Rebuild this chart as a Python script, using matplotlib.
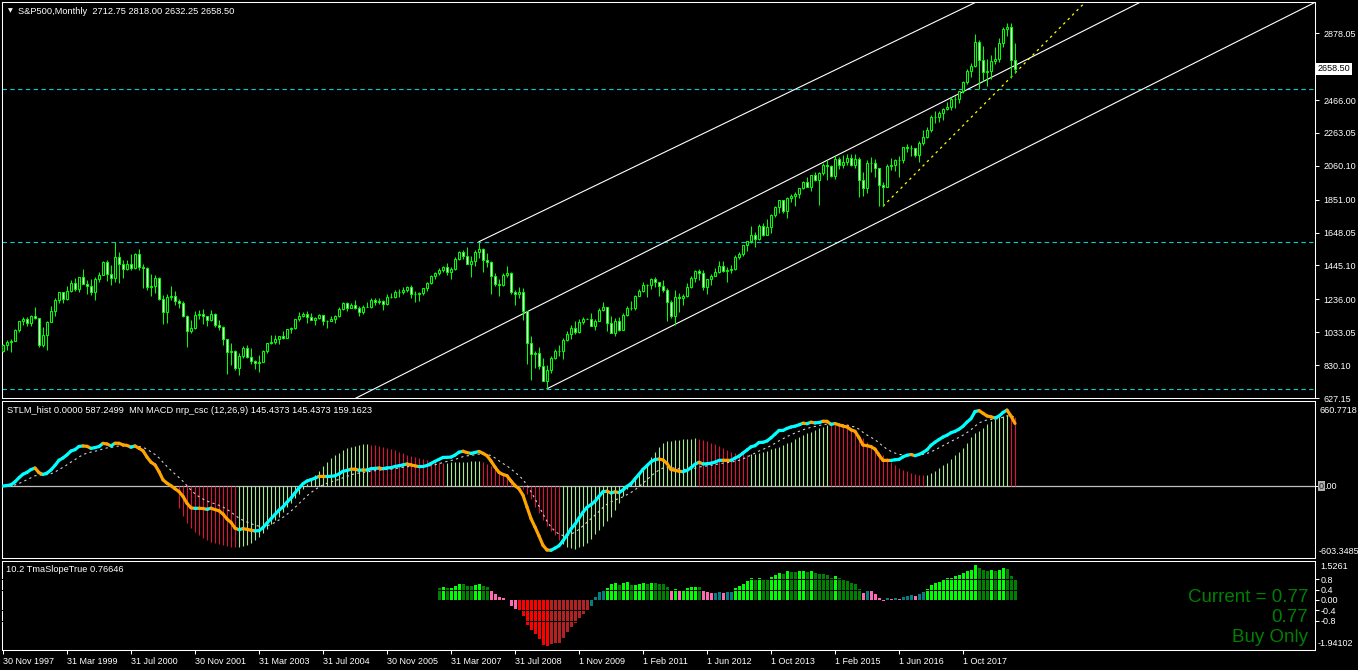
import numpy as np
import matplotlib.pyplot as plt
from matplotlib.collections import LineCollection
from matplotlib.transforms import blended_transform_factory

plt.rcParams['font.family'] = ['Liberation Sans', 'DejaVu Sans']

W, H = 1358, 670

# S&P500 monthly bars, Nov 1997 .. Nov 2018 (the feed has one extra bar after Dec 2009)
first_open = 914.6
closes = [
    955.4, 970.4,
    980.3, 1049.3, 1101.8, 1111.8, 1090.8, 1133.8, 1120.7, 957.3, 1017.0, 1098.7, 1163.6, 1229.2,
    1279.6, 1238.3, 1286.4, 1335.2, 1301.8, 1372.7, 1328.7, 1320.4, 1282.7, 1362.9, 1388.9, 1469.3,
    1394.5, 1366.4, 1498.6, 1452.4, 1420.6, 1454.6, 1430.8, 1517.7, 1436.5, 1429.4, 1315.2, 1320.3,
    1366.0, 1239.9, 1160.3, 1249.5, 1255.8, 1224.4, 1211.2, 1133.6, 1040.9, 1059.8, 1139.5, 1148.1,
    1130.2, 1106.7, 1147.4, 1076.9, 1067.1, 989.8, 911.6, 916.1, 815.3, 885.8, 936.3, 879.8,
    855.7, 841.2, 848.2, 916.9, 963.6, 974.5, 990.3, 1008.0, 996.0, 1050.7, 1058.2, 1111.9,
    1131.1, 1144.9, 1126.2, 1107.3, 1120.7, 1140.8, 1101.7, 1104.2, 1114.6, 1130.2, 1173.8, 1211.9,
    1181.3, 1203.6, 1180.6, 1156.9, 1191.5, 1191.3, 1234.2, 1220.3, 1228.8, 1207.0, 1249.5, 1248.3,
    1280.1, 1280.7, 1294.8, 1310.6, 1270.1, 1270.2, 1276.7, 1303.8, 1335.9, 1377.9, 1400.6, 1418.3,
    1438.2, 1406.8, 1420.9, 1482.4, 1530.6, 1503.4, 1455.3, 1474.0, 1526.8, 1549.4, 1481.1, 1468.4,
    1378.6, 1330.6, 1322.7, 1385.6, 1400.4, 1280.0, 1267.4, 1282.8, 1166.4, 968.8, 896.2, 903.3,
    825.9, 735.1, 797.9, 872.8, 919.1, 919.3, 987.5, 1020.6, 1057.1, 1036.2, 1095.6, 1115.1,
    1116.5,
    1073.9, 1104.5, 1169.4, 1186.7, 1089.4, 1030.7, 1101.6, 1049.3, 1141.2, 1183.3, 1180.6, 1257.6,
    1286.1, 1327.2, 1325.8, 1363.6, 1345.2, 1320.6, 1292.3, 1218.9, 1131.4, 1253.3, 1247.0, 1257.6,
    1312.4, 1365.7, 1408.5, 1397.9, 1310.3, 1362.2, 1379.3, 1406.6, 1440.7, 1412.2, 1416.2, 1426.2,
    1498.1, 1514.7, 1569.2, 1597.6, 1630.7, 1606.3, 1685.7, 1633.0, 1681.6, 1756.5, 1805.8, 1848.4,
    1782.6, 1859.5, 1872.3, 1884.0, 1923.6, 1960.2, 1930.7, 2003.4, 1972.3, 2018.1, 2067.6, 2058.9,
    1995.0, 2104.5, 2067.9, 2085.5, 2107.4, 2063.1, 2103.8, 1972.2, 1920.0, 2079.4, 2080.4, 2043.9,
    1940.2, 1932.2, 2059.7, 2065.3, 2097.0, 2098.9, 2173.6, 2171.0, 2168.3, 2126.2, 2198.8, 2238.8,
    2278.9, 2363.6, 2362.7, 2384.2, 2411.8, 2423.4, 2470.3, 2471.7, 2519.4, 2575.3, 2647.6, 2673.6,
    2823.8, 2713.8, 2640.9, 2648.1, 2705.3, 2718.4, 2816.3, 2901.5, 2914.0, 2712.75, 2658.5,
]
highs = [
    960, 986,
    992, 1051, 1105, 1130, 1124, 1138, 1190, 1121, 1066, 1103, 1193, 1244,
    1280, 1284, 1316, 1357, 1368, 1373, 1421, 1357, 1361, 1373, 1407, 1474,
    1478, 1445, 1590, 1527, 1481, 1478, 1517, 1525, 1545, 1454, 1438, 1390,
    1384, 1376, 1263, 1269, 1316, 1287, 1239, 1226, 1139, 1110, 1163, 1173,
    1176, 1131, 1173, 1150, 1106, 1070, 994, 965, 925, 907, 951, 954,
    935, 864, 895, 924, 965, 1015, 1015, 1011, 1040, 1054, 1063, 1112,
    1155, 1159, 1164, 1151, 1128, 1146, 1141, 1109, 1131, 1141, 1188, 1218,
    1217, 1213, 1229, 1192, 1200, 1220, 1246, 1245, 1243, 1234, 1271, 1276,
    1295, 1297, 1310, 1318, 1326, 1285, 1280, 1306, 1340, 1389, 1407, 1432,
    1441, 1461, 1438, 1499, 1535, 1541, 1556, 1503, 1539, 1590, 1553, 1524,
    1471, 1397, 1359, 1397, 1440, 1405, 1292, 1314, 1304, 1167, 1007, 918,
    944, 876, 832, 888, 930, 957, 997, 1039, 1080, 1101, 1113, 1130,
    1119.5,
    1150, 1113, 1180, 1220, 1190, 1131, 1120, 1130, 1150, 1196, 1228, 1262,
    1302, 1344, 1332, 1366, 1371, 1346, 1357, 1308, 1230, 1293, 1278, 1269,
    1334, 1378, 1420, 1422, 1416, 1364, 1392, 1427, 1475, 1471, 1434, 1448,
    1510, 1530, 1570, 1598, 1687, 1654, 1698, 1709, 1730, 1765, 1814, 1849,
    1851, 1867, 1884, 1897, 1925, 1968, 1991, 2006, 2019, 2019, 2075, 2093,
    2064, 2119, 2117, 2126, 2135, 2130, 2133, 2113, 2021, 2094, 2117, 2104,
    2045, 1963, 2073, 2111, 2100, 2121, 2178, 2194, 2188, 2170, 2214, 2278,
    2301, 2371, 2401, 2399, 2418, 2454, 2484, 2491, 2520, 2582, 2657, 2695,
    2873, 2836, 2801, 2718, 2742, 2791, 2848, 2917, 2941, 2940, 2818.0,
]
lows = [
    912, 926,
    912, 979, 1032, 1076, 1074, 1074, 1112, 939, 939, 923, 1096, 1132,
    1212, 1211, 1229, 1282, 1287, 1281, 1328, 1268, 1263, 1233, 1342, 1387,
    1350, 1325, 1346, 1339, 1370, 1420, 1417, 1421, 1419, 1305, 1294, 1254,
    1274, 1229, 1081, 1091, 1232, 1203, 1183, 1124, 944, 1026, 1054, 1114,
    1081, 1074, 1105, 1063, 1048, 952, 775, 833, 800, 768, 872, 871,
    840, 806, 789, 847, 902, 963, 962, 960, 990, 996, 1031, 1054,
    1105, 1124, 1087, 1107, 1076, 1114, 1078, 1060, 1100, 1090, 1127, 1173,
    1163, 1180, 1176, 1136, 1146, 1188, 1184, 1201, 1206, 1169, 1202, 1246,
    1245, 1253, 1268, 1280, 1245, 1220, 1224, 1263, 1290, 1331, 1360, 1385,
    1403, 1389, 1364, 1416, 1481, 1484, 1454, 1371, 1439, 1489, 1406, 1435,
    1270, 1317, 1257, 1318, 1373, 1272, 1200, 1247, 1106, 840, 741, 815,
    805, 734, 684, 783, 867, 888, 869, 979, 992, 1020, 1029, 1086,
    1112,
    1071, 1044, 1100, 1165, 1040, 1028, 1011, 1040, 1048, 1131, 1173, 1173,
    1257, 1283, 1249, 1302, 1311, 1258, 1282, 1101, 1120, 1075, 1159, 1202,
    1253, 1307, 1341, 1358, 1291, 1267, 1326, 1377, 1397, 1403, 1343, 1398,
    1420, 1485, 1501, 1536, 1581, 1560, 1605, 1627, 1633, 1646, 1746, 1767,
    1770, 1738, 1834, 1815, 1862, 1915, 1930, 1905, 1965, 1821, 2001, 1973,
    1988, 1981, 2039, 2048, 2067, 2056, 2044, 1867, 1872, 1893, 2019, 1993,
    1812, 1810, 1937, 2034, 2025, 1992, 2075, 2148, 2120, 2113, 2084, 2188,
    2233, 2271, 2322, 2328, 2345, 2405, 2407, 2418, 2447, 2511, 2566, 2605,
    2668, 2533, 2585, 2553, 2594, 2691, 2699, 2796, 2864, 2603, 2632.25,
]

date_labels = ["30 Nov 1997", "31 Mar 1999", "31 Jul 2000", "30 Nov 2001", "31 Mar 2003",
               "31 Jul 2004", "30 Nov 2005", "31 Mar 2007", "31 Jul 2008", "1 Nov 2009",
               "1 Feb 2011", "1 Jun 2012", "1 Oct 2013", "1 Feb 2015", "1 Jun 2016", "1 Oct 2017"]
price_ticks = [2878.05, 2466.00, 2263.05, 2060.10, 1851.00, 1648.05,
               1445.10, 1236.00, 1033.05, 830.10, 627.15]
last_price = 2658.50

# horizontal levels and trend objects (bar index, price)
level_prices = [2535.0, 1590.0, 684.0]
channel_bars = [(119, 239.2), (88.5, 280.5), (136, 324.25)]
channel_prices = [(1592, 3022), (629.8, 3022), (684, 3022)]
trend_bars = (220, 253)
trend_prices = (1810, 2632.25)

# STLM histogram
hist_start = 44
hist_vals = [
    -189, -254, -311, -359, -390, -416, -438, -458, -472, -483, -495, -503, -509, -514, -517,
    -514, -509, -497, -481, -458, -430, -396, -362, -322, -288, -260, -218, -181, -141, -102, -68, -28,
    17, 57, 90, 130, 170, 204, 235, 263, 283, 305, 319, 334, 342, 351, 353, 353,
    351, 348, 339, 331, 322, 314, 305, 291, 277, 266, 257, 249, 240, 232, 223, 215, 206, 201, 198,
    198, 201, 204, 206, 206, 206, 209, 209, 209,
    204, 187, 170, 153, 130, 113, 88, 57, 23, -6, -28, -68, -113, -175, -232, -288, -339, -379, -418, -458,
    -492, -514, -529, -531,
    -520, -506, -486, -450, -410, -375, -335, -300, -260, -204, -141, -85, -28, 17, 59, 102, 150, 192,
    243, 288, 334, 367, 379, 384, 390, 393, 396, 399, 401, 404,
    401, 390, 379, 367, 353, 339, 319, 305, 291, 283, 274, 269,
    266, 269, 274, 280, 288, 300, 311, 319, 334, 348, 362, 376, 396, 413, 430, 447, 461, 475, 489, 503,
    515, 517, 515, 509, 503, 492, 475, 458, 433, 404, 376, 348, 319, 291, 263, 235, 206, 178, 153, 136,
    124, 113, 102, 96,
    93, 96, 107, 127, 150, 178, 198, 226, 263, 291, 325, 367, 418, 447, 469, 492, 526, 548, 565, 582,
    594, 600, 598, 587,
]
hist_turns = [44, 59, 92, 111, 120, 140, 174, 187, 207, 231, 252]
hist_turn_up = [False, True, False, True, False, True, False, True, False, True, False]

# TmaSlope bars
tma_start = 109
tma_vals = [
    0.45, 0.51, 0.45, 0.45, 0.54, 0.62, 0.62, 0.54, 0.54, 0.58, 0.62, 0.54, 0.51, 0.36, 0.23, 0.12, 0.08, -0.02, -0.23, -0.34,
    -0.39, -0.61, -0.97, -1.17, -1.32, -1.52, -1.75, -1.79, -1.71, -1.66, -1.66, -1.47, -1.23, -1.04, -0.88, -0.69, -0.54, -0.39,
    -0.22, 0.12, 0.31, 0.36, 0.48, 0.62, 0.66, 0.58, 0.66, 0.70, 0.58, 0.58, 0.62, 0.66, 0.62, 0.66, 0.66, 0.62, 0.62, 0.51,
    0.36, 0.43, 0.36, 0.36, 0.47, 0.51, 0.51, 0.51, 0.36, 0.31, 0.27, 0.27, 0.31, 0.27, 0.31,
    0.31, 0.47, 0.54, 0.62, 0.74, 0.86, 0.82, 0.86, 0.82, 0.82,
    0.89, 0.97, 1.05, 1.01, 1.13, 1.09, 1.09, 1.13, 1.13, 1.09,
    1.13, 1.05, 1.01, 1.01, 0.97, 0.86, 0.93, 0.86, 0.82, 0.74,
    0.66, 0.62, 0.43, 0.27, 0.35, 0.35, 0.23, 0.08, -0.03, 0.08,
    0.03, 0.08, 0.03, 0.12, 0.16, 0.19, 0.16, 0.23, 0.31, 0.43,
    0.58, 0.66, 0.70, 0.82, 0.86, 0.86, 0.93, 0.97, 1.05, 1.13,
    1.17, 1.36, 1.25, 1.17, 1.13, 1.17, 1.13, 1.17, 1.25, 1.21,
    0.93, 0.77,
]
tma_codes = ("GLGLLLGGGLLGGPPPPPPP" "RRRRRRRRFFFFFFFFFF" "TTTTLLLGLLGLLLGLGGGG" "PLPLLLLGPPPTTPT"
             "TLLLLLGLGGLLLGLGGLLGLGGGGGLGGGGGGPTPPPPTPTPTTTPTTLLLLLLLLLLLLLGGGLGLLGGG")
tma_palette = {'L': '#00FF00', 'G': '#008000', 'P': '#FF69B4', 'T': '#008080',
               'R': '#FF0000', 'F': '#B22222'}

WHITE = 'white'
LIME = '#00FF00'


def px_axes(fig, x0, y0, x1, y1):
    ax = fig.add_axes([x0 / W, 1 - y1 / H, (x1 - x0) / W, (y1 - y0) / H])
    ax.set_facecolor('black')
    for s in ax.spines.values():
        s.set_color(WHITE)
        s.set_linewidth(0.75)
    ax.set_xlim(-0.25, 328)
    ax.tick_params(axis='x', bottom=False, labelbottom=False)
    return ax


def ema(v, n):
    a = 2.0 / (n + 1)
    out = np.empty(len(v))
    out[0] = v[0]
    for i in range(1, len(v)):
        out[i] = a * v[i] + (1 - a) * out[i - 1]
    return out


def ray(ax, bars, prices, both=False, **kw):
    (b0, b1), (p0, p1) = bars, prices
    s = (p1 - p0) / (b1 - b0)
    start = b0 - 200 if both else b0
    end = b1 + 200
    ax.plot([start, end], [p0 + s * (start - b0), p0 + s * (end - b0)], **kw)


c = np.array(closes, dtype=float)
hi = np.array(highs, dtype=float)
lo = np.array(lows, dtype=float)
o = np.concatenate([[first_open], c[:-1]])
n = len(c)
x = np.arange(n)

fig = plt.figure(figsize=(W / 100, H / 100), dpi=100, facecolor='black')

# ---------------- price window ----------------
ax = px_axes(fig, 2, 2, 1315, 398)
ax.set_ylim(630.8, 3070.9)
ax.vlines(x, lo, hi, color=LIME, lw=0.75, zorder=3)
up = c >= o
ax.bar(x, np.abs(c - o), bottom=np.minimum(o, c), width=0.5,
       color=np.where(up, 'black', 'white'), edgecolor=LIME, linewidth=0.75, zorder=4)

for p in level_prices:
    ax.axhline(p, color='#00CED1', lw=0.8, ls=(0, (4, 3)), zorder=2)
for i, (bars, prices) in enumerate(zip(channel_bars, channel_prices)):
    ray(ax, bars, prices, both=(i == 1), color=WHITE, lw=0.8, zorder=2)
ray(ax, trend_bars, trend_prices, color='#FFFF00', lw=0.9, ls=(0, (2, 3)), zorder=2)

ax.yaxis.tick_right()
ax.set_yticks(price_ticks + [last_price])
ax.set_yticklabels([f'{v:.2f}' for v in price_ticks] + [''])
ax.tick_params(axis='y', colors=WHITE, length=3, width=0.75, labelsize=6.5, pad=3)
tr = blended_transform_factory(fig.transFigure, ax.transData)
ax.text(1318 / W, last_price, f'{last_price:.2f}', transform=tr, fontsize=6.5, color='black',
        va='center', ha='left', bbox=dict(facecolor='white', edgecolor='none', pad=1.2))

fig.text(10 / W, 1 - 11 / H, '\u25bc', color=WHITE, fontsize=4.5, family='DejaVu Sans',
         ha='center', va='center')
fig.text(18 / W, 1 - 11 / H, 'S&P500,Monthly  2712.75 2818.00 2632.25 2658.50',
         color=WHITE, fontsize=6.7, va='center', ha='left')

# ---------------- MACD window ----------------
am = px_axes(fig, 2, 401, 1315, 557.5)
am.set_ylim(-606, 721)
am.axhline(0, color='#C0C0C0', lw=0.9, zorder=1)

hv = np.array(hist_vals, dtype=float)
hx = np.arange(hist_start, hist_start + len(hv))
turn_pos = np.searchsorted(hist_turns, hx, side='right') - 1
hcol = ['#A6E88F' if hist_turn_up[t] else '#DC143C' for t in turn_pos]
am.vlines(hx, 0, hv, colors=hcol, lw=0.8, zorder=2)

macd = ema(c, 12) - ema(c, 26)
sig = ema(macd, 9)
k = 644.0 / macd.max()
mp, sp = macd * k, sig * k
am.plot(x, sp, color='#D0D0D0', lw=0.8, ls=(0, (2, 3)), zorder=3)
segs = np.stack([np.column_stack([x[:-1], mp[:-1]]), np.column_stack([x[1:], mp[1:]])], axis=1)
seg_col = ['#00FFFF' if mp[i + 1] >= mp[i] else '#FFA500' for i in range(n - 1)]
am.add_collection(LineCollection(segs, colors=seg_col, linewidths=2.3, capstyle='round', zorder=4))

am.set_yticks([0])
am.yaxis.tick_right()
am.tick_params(axis='y', colors=WHITE, length=3, width=0.75, labelright=False)
trm = blended_transform_factory(fig.transFigure, am.transData)
am.text(1320 / W, 644, '660.7718', transform=trm, color=WHITE, fontsize=6.5, va='center')
am.text(1319 / W, -551, '-603.3485', transform=trm, color=WHITE, fontsize=6.5, va='center')
am.text(1319 / W, 0, '0', transform=trm, color='#202020', fontsize=6.5, va='center',
        bbox=dict(facecolor='#B0B0B0', edgecolor='none', pad=0.6))
am.text(1324.5 / W, 0, '.00', transform=trm, color=WHITE, fontsize=6.5, va='center')
fig.text(7 / W, 1 - 410.5 / H,
         'STLM_hist 0.0000 587.2499  MN MACD nrp_csc (12,26,9) 145.4373 145.4373 159.1623',
         color=WHITE, fontsize=6.7, va='center', ha='left')

# ---------------- TmaSlope window ----------------
at = px_axes(fig, 2, 560.5, 1315, 650)
at.set_ylim(-1.94102, 1.5261)
tv = np.array(tma_vals)
tx = np.arange(tma_start, tma_start + len(tv))
at.bar(tx, tv, width=0.75, color=[tma_palette[ch] for ch in tma_codes], linewidth=0,
       antialiased=False, zorder=2)
for lvl in (0.8, 0.4, -0.4, -0.8):
    at.axhline(lvl, color='black', lw=0.75, zorder=3)

at.yaxis.tick_right()
at.set_yticks([0.8, 0.4, 0.0, -0.4, -0.8])
at.set_yticklabels(['0.8', '0.4', '0.00', '-0.4', '-0.8'])
at.tick_params(axis='y', colors=WHITE, length=3, width=0.75, labelsize=6.5, pad=1)
trt = blended_transform_factory(fig.transFigure, at.transData)
at.text(1320 / W, 1.29, '1.5261', transform=trt, color=WHITE, fontsize=6.5, va='center')
at.text(1318 / W, -1.67, '-1.94102', transform=trt, color=WHITE, fontsize=6.5, va='center')

at.set_xticks(np.arange(0, 16 * len(date_labels), 16))
at.set_xticklabels(date_labels, ha='left')
at.tick_params(axis='x', bottom=True, labelbottom=True, colors=WHITE, length=3, width=0.75,
               labelsize=6.5, pad=2)

fig.text(6 / W, 1 - 570 / H, '10.2 TmaSlopeTrue 0.76646', color=WHITE, fontsize=6.7,
         va='center', ha='left')
for txt, yy in (('Current = 0.77', 598), ('0.77', 618), ('Buy Only', 638)):
    fig.text(1308 / W, 1 - yy / H, txt, color='#008000', fontsize=13.5, va='center', ha='right')

fig.savefig('out.png', dpi=100, facecolor='black')
